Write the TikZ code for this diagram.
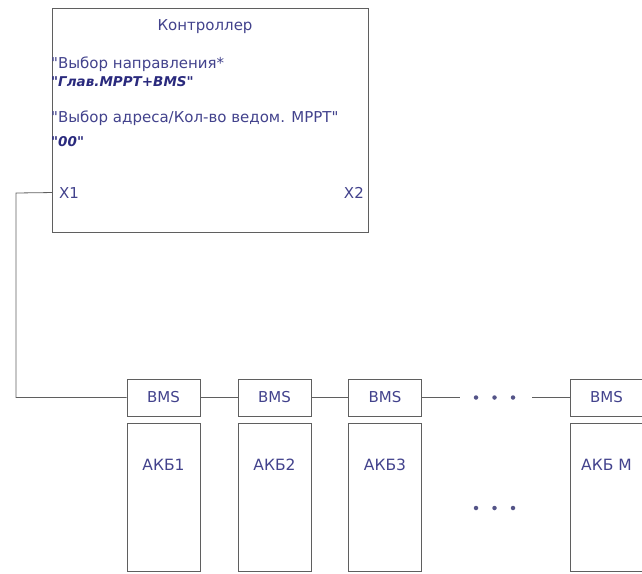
\documentclass[tikz,border=0pt]{standalone}
\usepackage{fontspec}
\newfontfamily\vfont{DejaVu Sans}
\usetikzlibrary{positioning}
\definecolor{txtblue}{RGB}{66,66,140}
\definecolor{deepblue}{RGB}{42,42,125}
\definecolor{edgegray}{RGB}{95,95,95}
\tikzset{
  ctl/.style={draw=edgegray, line width=1.2pt, minimum width=316pt, minimum height=224pt, inner sep=0pt, anchor=north west},
  bms/.style={draw=edgegray, line width=0.8pt, minimum width=73pt, minimum height=37pt, inner sep=0pt, font=\vfont\fontsize{15}{17}\selectfont, text=txtblue},
  akb/.style={draw=edgegray, line width=0.8pt, minimum width=73pt, minimum height=148pt, inner sep=0pt, anchor=north},
  wire/.style={draw=edgegray, line width=0.8pt},
  lab/.style={font=\vfont\fontsize{15}{17}\selectfont, text=txtblue, inner sep=0pt, anchor=base west},
  blab/.style={lab, font=\vfont\fontsize{13.5}{15}\selectfont\bfseries\itshape, text=deepblue},
  pnt/.style={circle, fill=txtblue!70!gray, inner sep=0pt, minimum size=4.5pt}
}

\begin{document}
\begin{tikzpicture}[x=1pt, y=-1pt]
	\useasboundingbox (0,0) rectangle (642,573);
	% controller
	\node[ctl] (ctl) at (52,8) {};
	\node[lab, anchor=base] (title) at (205,30) {Контроллер};
	\node[lab] (dir) at (51,68) {"Выбор направления*};
	\node[blab] (dirv) at (51,86) {"Глав.MPPT+BMS"};
	\node[lab] (adr) at (51,122) {"Выбор адреса/Кол-во ведом. MPPT"};
	\node[blab] (adrv) at (51,146) {"00"};
	\node[lab] (x1) at (59,198) {X1};
	\node[lab, anchor=base east] (x2) at (364,198) {X2};
	% batteries
	\node[bms] (bms1) at (163.5,397.5) {BMS};
	\node[bms] (bms2) at (274.5,397.5) {BMS};
	\node[bms] (bms3) at (385,397.5) {BMS};
	\node[bms] (bmsm) at (606.5,397.5) {BMS};
	\node[akb] (akb1) at (163.5,423) {};
	\node[akb] (akb2) at (274.5,423) {};
	\node[akb] (akb3) at (385,423) {};
	\node[akb] (akbm) at (606.5,423) {};
	\foreach \b/\t in {1/АКБ1, 2/АКБ2, 3/АКБ3, m/АКБ М}
		\node[lab, anchor=base, font=\vfont\fontsize{15.5}{17}\selectfont] (t\b) at ([yshift=-47pt]akb\b.north) {\t};
	\node[minimum width=72pt, inner sep=0pt] (gap) at (496,397.5) {};
	\foreach \y in {397.5,508}
		\foreach \x in {476,494.5,513}
			\node[pnt] (d\x-\y) at (\x,\y) {};
	% wiring
	\coordinate (bend) at (16,193);
	\draw[wire] (ctl.west |- x1) -- (bend) |- (bms1.west);
	\draw[wire] (bms1) -- (bms2);
	\draw[wire] (bms2) -- (bms3);
	\draw[wire] (bms3) -- (gap);
	\draw[wire] (gap) -- (bmsm);
\end{tikzpicture}
\end{document}
